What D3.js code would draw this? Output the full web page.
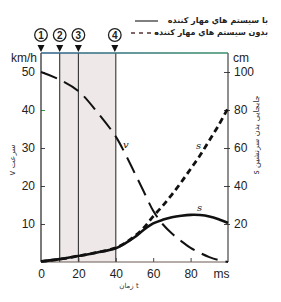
<!DOCTYPE html>
<html><head><meta charset="utf-8">
<script src="https://cdn.jsdelivr.net/npm/d3@7/dist/d3.min.js"></script>
<style>body{margin:0;background:#fff}svg{display:block}</style>
</head><body>
<svg id="c" width="281" height="302"></svg>
<script>
// ---- data ----
const times = [0,10,20,30,40,45,50,55,60,65,70,75,80,85,90,95,100];
const speedV = [50,48,45,39.5,33,28.5,23.5,18.5,13.5,10,7.5,5.5,3.7,2.4,1.3,0.5,0];
const dispWithout = [0.3,1.5,3.2,5,7.5,10,13.5,18,24,29.5,35.5,42,49,56,64,72,81];
const dispWith = [0.3,1.5,3.2,5,7.2,9.8,13,17,20.3,22.2,23.5,24.3,24.8,24.7,24,22.5,20.5];
const leftTicks = [10,20,30,40,50];
const rightTicks = [20,40,60,80,100];
const bottomTicks = [0,20,40,60,80,100];
const markerTimes = [0,10,20,40];
const markerLabels = ["1","2","3","4"];
const shadeRange = [10,40];
const legendLabels = ["با سیستم هاي مهار كننده","بدون سیستم هاي مهار كننده"];

const svg = d3.select("#c");
const x = d3.scaleLinear().domain([0,100]).range([41,228]);
const yL = d3.scaleLinear().domain([0,55]).range([262,53]);
const yR = d3.scaleLinear().domain([0,110]).range([262,53]);
const num = "Liberation Sans, Arial, sans-serif";
const ar = "DejaVu Sans, sans-serif";
const fs = 12;

// shading
svg.append("rect").attr("x",x(shadeRange[0])).attr("y",yL(55))
  .attr("width",x(shadeRange[1])-x(shadeRange[0])).attr("height",yL(0)-yL(55))
  .attr("fill","#eee8e8");

// vertical marker lines
markerTimes.slice(1).forEach(t=>{
  svg.append("line").attr("x1",x(t)).attr("x2",x(t)).attr("y1",yL(55)).attr("y2",yL(0))
    .attr("stroke","#333").attr("stroke-width",1.1);
});

// axes
const gL = svg.append("g").attr("transform",`translate(${x(0)},0)`)
  .call(d3.axisLeft(yL).tickValues(leftTicks).tickSize(-4).tickPadding(6));
const gR = svg.append("g").attr("transform",`translate(${x(100)},0)`)
  .call(d3.axisRight(yR).tickValues(rightTicks).tickSize(-4).tickPadding(6));
gR.selectAll(".tick line").attr("x1",-4).attr("x2",2);
const gB = svg.append("g").attr("transform",`translate(0,${yL(0)})`)
  .call(d3.axisBottom(x).tickValues(bottomTicks).tickSize(-4).tickPadding(7)
    .tickFormat(d=>d===100?"ms":d));
[gL,gR,gB].forEach(g=>{
  g.select(".domain").remove();
  g.selectAll("text").attr("font-family",num).attr("font-size",fs).attr("fill","#222");
  g.selectAll(".tick line").attr("stroke","#444");
});
gB.selectAll(".tick").filter(d=>d===100).select("text").attr("dx",-7);
gB.selectAll(".tick").filter(d=>d===0||d===100).select("line").remove();
gL.selectAll(".tick").filter(d=>d===40).select("line").attr("stroke","#3a9a4a");

// axis lines
svg.append("line").attr("x1",x(0)).attr("x2",x(0)).attr("y1",yL(55)).attr("y2",yL(0)).attr("stroke","#222").attr("stroke-width",1.2);
svg.append("line").attr("x1",x(100)).attr("x2",x(100)).attr("y1",yL(55)).attr("y2",yL(0)).attr("stroke","#333").attr("stroke-width",1.1);
svg.append("line").attr("x1",x(0)).attr("x2",x(100)).attr("y1",yL(0)).attr("y2",yL(0)).attr("stroke","#6a5a55").attr("stroke-width",1.2);
const grad = svg.append("defs").append("linearGradient").attr("id","tg").attr("gradientUnits","userSpaceOnUse")
  .attr("x1",x(0)).attr("x2",x(100)).attr("y1",0).attr("y2",0);
grad.append("stop").attr("offset","0%").attr("stop-color","#2c5f8a");
grad.append("stop").attr("offset","100%").attr("stop-color","#3a8f6a");
svg.append("line").attr("x1",x(0)).attr("x2",x(100)).attr("y1",yL(55)).attr("y2",yL(55)).attr("stroke","url(#tg)").attr("stroke-width",1.5);

// unit labels
svg.append("text").attr("x",37).attr("y",62).attr("text-anchor","end").attr("font-family",num).attr("font-size",fs).attr("fill","#222").text("km/h");
svg.append("text").attr("x",233).attr("y",62).attr("font-family",num).attr("font-size",fs).attr("fill","#222").text("cm");

// curves
const line = (ys,sc)=>d3.line().x((d,i)=>x(times[i])).y(d=>sc(d)).curve(d3.curveCatmullRom)(ys);
svg.append("path").attr("d",line(speedV,yL)).attr("fill","none").attr("stroke","#111")
  .attr("stroke-width",2).attr("stroke-dasharray","17,8");
svg.append("path").attr("d",line(dispWithout,yR)).attr("fill","none").attr("stroke","#111")
  .attr("stroke-width",2.8).attr("stroke-dasharray","6,4");
svg.append("path").attr("d",line(dispWith,yR)).attr("fill","none").attr("stroke","#111")
  .attr("stroke-width",2.6);

// curve labels
const lab = (tx,ty,t)=>svg.append("text").attr("x",tx).attr("y",ty).attr("font-family","DejaVu Serif, serif")
  .attr("font-style","italic").attr("font-size",10).attr("fill","#222").text(t);
lab(123,148,"v"); lab(196,149,"s"); lab(197,211,"s");

// markers
markerTimes.forEach((t,i)=>{
  const cx = x(t)+(i===3?-1:0);
  svg.append("circle").attr("cx",cx).attr("cy",35).attr("r",6.3).attr("fill","#fff").attr("stroke","#222").attr("stroke-width",1.3);
  svg.append("text").attr("x",cx).attr("y",39).attr("text-anchor","middle").attr("font-family",num)
    .attr("font-weight","bold").attr("font-size",10).attr("fill","#222").text(markerLabels[i]);
  svg.append("path").attr("d",`M${cx-3.5},45 L${cx+3.5},45 L${cx},52 Z`).attr("fill","#111");
});

// legend
svg.append("line").attr("x1",135).attr("x2",158).attr("y1",21).attr("y2",21).attr("stroke","#555").attr("stroke-width",1.5);
svg.append("line").attr("x1",131).attr("x2",158).attr("y1",33).attr("y2",33).attr("stroke","#553333").attr("stroke-width",1.5).attr("stroke-dasharray","4,4");
legendLabels.forEach((s,i)=>{
  svg.append("text").attr("x",268).attr("y",23+i*12).attr("text-anchor","start").attr("direction","rtl")
    .attr("font-family",ar).attr("font-weight","bold").attr("font-size",8).attr("fill","#222").text(s);
});

// axis titles
svg.append("text").attr("transform","translate(15,160) rotate(-90)").attr("text-anchor","middle").attr("direction","rtl")
  .attr("font-family",ar).attr("font-size",8).attr("fill","#333").text("سرعت v");
svg.append("text").attr("transform","translate(259,135) rotate(-90)").attr("text-anchor","middle").attr("direction","rtl")
  .attr("font-family",ar).attr("font-size",8).attr("fill","#333").text("جابجایی بدن سرنشین s");
svg.append("text").attr("x",129).attr("y",288).attr("text-anchor","middle")
  .attr("font-family",ar).attr("font-size",7).attr("fill","#333").text("زمان t");
</script>
</body></html>
